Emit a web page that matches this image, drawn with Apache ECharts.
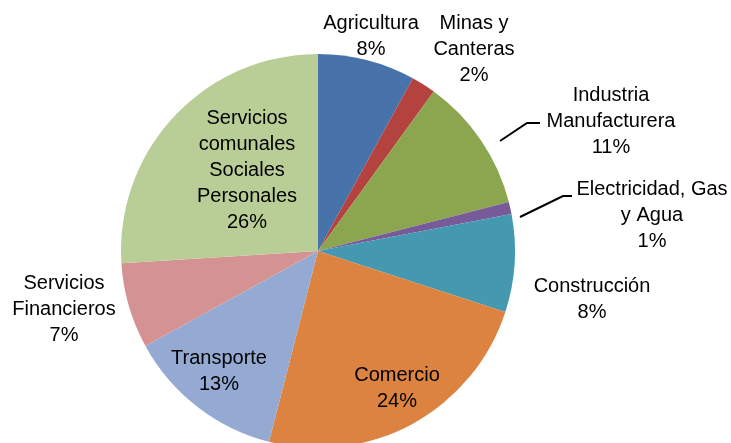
<!DOCTYPE html>
<html>
<head>
<meta charset="utf-8">
<script src="https://cdn.jsdelivr.net/npm/echarts@6/dist/echarts.min.js"></script>
<style>
  html, body { margin: 0; padding: 0; background: #fff; }
  #main { width: 731px; height: 443px; }
</style>
</head>
<body>
<div id="main"></div>
<script>
// categories (line breaks as in the original labels)
const categories = [
  'Agricultura',
  'Minas y\nCanteras',
  'Industria\nManufacturera',
  'Electricidad, Gas\ny Agua',
  'Construcción',
  'Comercio',
  'Transporte',
  'Servicios\nFinancieros',
  'Servicios\ncomunales\nSociales\nPersonales'
];
const shares = [8, 2, 11, 1, 8, 24, 13, 7, 26];
const colors = ['#4773AA', '#B4423F', '#8CA64F', '#775A98', '#4499B1', '#DC8341', '#95AAD2', '#D49392', '#B9CE97'];

// where each label block sits (centre point), and leader lines
const labelPos = [
  [371, 36], [474, 49], [611, 121], [652, 215], [592, 299],
  [397, 388], [219, 371], [64, 309], [247, 170]
];
const leaderLines = {
  2: [[500, 141], [527, 123], [540, 123]],
  3: [[520, 217], [563, 196], [572, 196]]
};

const chart = echarts.init(document.getElementById('main'));

chart.setOption({
  animation: false,
  color: colors,
  series: [{
    type: 'pie',
    center: [318, 251],
    radius: 197,
    startAngle: 90,
    data: categories.map((name, i) => ({ name: name, value: shares[i] })),
    label: {
      show: true,
      position: 'outside',
      formatter: p => p.name + '\n' + p.value + '%',
      fontFamily: 'Liberation Sans',
      fontSize: 20,
      lineHeight: 26,
      color: '#000',
      align: 'center',
      overflow: 'none',
      width: 200
    },
    labelLine: {
      show: true,
      lineStyle: { color: '#000', width: 2 }
    },
    itemStyle: { borderWidth: 0 },
    emphasis: { disabled: true },
    labelLayout: function (params) {
      const i = params.dataIndex;
      const pos = labelPos[i];
      const res = {
        x: pos[0],
        y: pos[1],
        align: 'center',
        verticalAlign: 'middle'
      };
      res.labelLinePoints = leaderLines[i] || [[pos[0], pos[1]], [pos[0], pos[1]], [pos[0], pos[1]]];
      return res;
    }
  }]
});
</script>
</body>
</html>
